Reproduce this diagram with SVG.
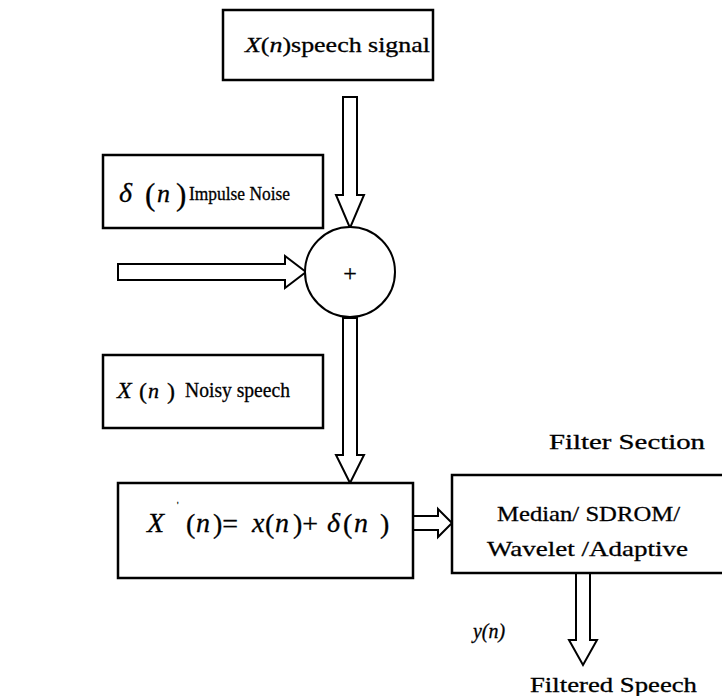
<svg xmlns="http://www.w3.org/2000/svg" width="722" height="696" viewBox="0 0 722 696">
<style>
.box{fill:#fff;stroke:#000;stroke-width:2.5}
.arr{fill:#fff;stroke:#000;stroke-width:2;stroke-linejoin:miter}
.t{font-family:"Liberation Serif","DejaVu Serif","Times New Roman",serif;fill:#000;stroke:#000;stroke-width:0.3}
.i{font-style:italic}
</style>
<rect width="722" height="696" fill="#fff"/>
<g id="connectors">
<polygon class="arr" points="343,97 357,97 357,195 364,195 350,228 336,195 343,195"/>
<polygon class="arr" points="118,264 285,264 285,256 306,272 285,288 285,280 118,280"/>
<polygon class="arr" points="343,318 357,318 357,455 364,455 350,483 336,455 343,455"/>
<polygon class="arr" points="413,516 438,516 438,509 452,523 438,537 438,530 413,530"/>
<polygon class="arr" points="576,573 590,573 590,640 597,640 583,665 569,640 576,640"/>
</g>
<g id="speech">
<rect class="box" x="223" y="10" width="210" height="70"/>
<text class="t" x="245" y="52" font-size="22" textLength="185" lengthAdjust="spacingAndGlyphs"><tspan class="i">X</tspan>(<tspan class="i">n</tspan>)speech signal</text>
</g>
<g id="impulse">
<rect class="box" x="103" y="155" width="220" height="73"/>
<text class="t i" x="119" y="202" font-size="28">δ</text>
<text class="t" x="145" y="205" font-size="31">(</text>
<text class="t i" x="157" y="202" font-size="26">n</text>
<text class="t" x="176" y="205" font-size="31">)</text>
<text class="t" x="189" y="200" font-size="19" textLength="101" lengthAdjust="spacingAndGlyphs">Impulse Noise</text>
</g>
<g id="sum">
<circle cx="350" cy="272" r="45" fill="#fff" stroke="#000" stroke-width="2"/>
<text class="t" x="350" y="281" font-size="24" text-anchor="middle">+</text>
</g>
<g id="noisy">
<rect class="box" x="103" y="355" width="220" height="73"/>
<text class="t i" x="117" y="398" font-size="24">X</text>
<text class="t" x="139" y="399" font-size="24">(</text>
<text class="t i" x="148" y="398" font-size="22">n</text>
<text class="t" x="167" y="399" font-size="24">)</text>
<text class="t" x="185" y="397" font-size="21" textLength="105" lengthAdjust="spacingAndGlyphs">Noisy speech</text>
</g>
<g id="sumbox">
<rect class="box" x="118" y="483" width="295" height="95"/>
<g font-size="28">
<text class="t i" x="147" y="532">X</text>
<text class="t" x="177" y="508" font-size="8" fill="#999" stroke="none">'</text>
<text class="t" x="186" y="533">(</text>
<text class="t i" x="196" y="532">n</text>
<text class="t" x="213" y="533">)=</text>
<text class="t i" x="252" y="532">x</text>
<text class="t" x="265" y="533">(</text>
<text class="t i" x="275" y="532">n</text>
<text class="t" x="293" y="533">)+</text>
<text class="t i" x="327" y="532">δ</text>
<text class="t" x="343" y="533">(</text>
<text class="t i" x="354" y="532">n</text>
<text class="t" x="380" y="533">)</text>
</g>
</g>
<g id="filter">
<text class="t" x="549" y="449" font-size="21" textLength="156" lengthAdjust="spacingAndGlyphs">Filter Section</text>
<rect class="box" x="452" y="475" width="275" height="98"/>
<text class="t" x="497" y="521" font-size="22" textLength="183" lengthAdjust="spacingAndGlyphs">Median/ SDROM/</text>
<text class="t" x="487" y="556" font-size="22" textLength="201" lengthAdjust="spacingAndGlyphs">Wavelet /Adaptive</text>
</g>
<g id="output">
<text class="t i" x="473" y="638" font-size="20" textLength="32" lengthAdjust="spacingAndGlyphs">y(n)</text>
<text class="t" x="530" y="692" font-size="21" textLength="167" lengthAdjust="spacingAndGlyphs">Filtered Speech</text>
</g>
</svg>
